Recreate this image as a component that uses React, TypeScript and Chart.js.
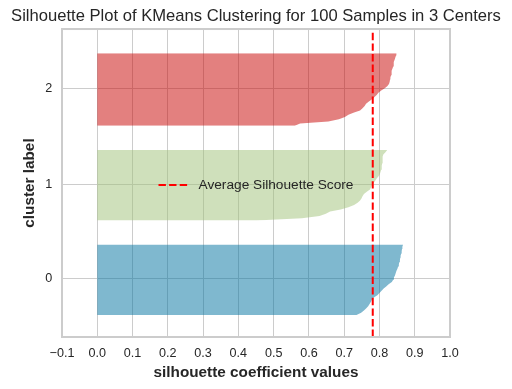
import { useEffect, useRef } from "react";
import { Chart, registerables } from "chart.js";

Chart.register(...registerables);

const TITLE = "Silhouette Plot of KMeans Clustering for 100 Samples in 3 Centers";
const X_LABEL = "silhouette coefficient values";
const Y_LABEL = "cluster label";
const LEGEND_LABEL = "Average Silhouette Score";

const CLUSTER_LABELS = ["0", "1", "2"];

// sorted silhouette values per sample
const CLUSTER_0_VALUES = [
  0.735, 0.748, 0.756, 0.762, 0.768, 0.772, 0.776, 0.779, 0.784, 0.794,
  0.8, 0.806, 0.812, 0.819, 0.826, 0.835, 0.839, 0.841, 0.844, 0.846,
  0.848, 0.851, 0.853, 0.855, 0.856, 0.858, 0.859, 0.86, 0.862, 0.863,
  0.864, 0.865, 0.867,
];
const CLUSTER_1_VALUES = [
  0.45, 0.58, 0.63, 0.648, 0.66, 0.69, 0.712, 0.728, 0.738, 0.745,
  0.749, 0.752, 0.756, 0.764, 0.773, 0.776, 0.779, 0.783, 0.788, 0.792,
  0.797, 0.801, 0.803, 0.805, 0.806, 0.807, 0.808, 0.808, 0.809, 0.81,
  0.811, 0.817, 0.822,
];
const CLUSTER_2_VALUES = [
  0.56, 0.575, 0.655, 0.685, 0.702, 0.712, 0.728, 0.745, 0.752, 0.758,
  0.762, 0.77, 0.778, 0.785, 0.792, 0.797, 0.805, 0.814, 0.822, 0.827,
  0.829, 0.83, 0.831, 0.833, 0.834, 0.835, 0.837, 0.839, 0.84, 0.841,
  0.843, 0.845, 0.847, 0.848,
];
const AVERAGE_SCORE = 0.781;

const X_TICKS = [-0.1, 0.0, 0.1, 0.2, 0.3, 0.4, 0.5, 0.6, 0.7, 0.8, 0.9, 1.0];
const X_TICK_LABELS = ["\u22120.1", "0.0", "0.1", "0.2", "0.3", "0.4", "0.5", "0.6", "0.7", "0.8", "0.9", "1.0"];
const X_MIN = -0.1;
const X_MAX = 1.0;
const CLUSTER_GAP = 10;

const FILL_COLORS = ["rgba(0,113,160,0.5)", "rgba(159,193,119,0.5)", "rgba(199,1,0,0.5)"];
const FONT = '"Liberation Sans", Arial, Helvetica, sans-serif';
const TEXT_COLOR = "#262626";
const GRID_COLOR = "#cccccc";

export default function App() {
  const ref = useRef<HTMLCanvasElement | null>(null);

  useEffect(() => {
    if (!ref.current) return;
    const clusters = [CLUSTER_0_VALUES, CLUSTER_1_VALUES, CLUSTER_2_VALUES];
    let yLower = CLUSTER_GAP;
    const tickPositions: number[] = [];
    const fillSets: any[] = clusters.map((vals, i) => {
      const data = vals.map((v, j) => ({ x: v, y: yLower + j }));
      tickPositions.push(yLower + 0.5 * vals.length);
      yLower += vals.length + CLUSTER_GAP;
      return {
        label: "cluster " + CLUSTER_LABELS[i],
        data,
        backgroundColor: FILL_COLORS[i],
        borderColor: FILL_COLORS[i],
        borderWidth: 0,
        pointRadius: 0,
        fill: "origin",
        tension: 0,
        order: 1,
      };
    });
    const yMax = yLower;

    const avgSet = {
      label: LEGEND_LABEL,
      data: [
        { x: AVERAGE_SCORE, y: 0 },
        { x: AVERAGE_SCORE, y: yMax },
      ],
      borderColor: "#ff0000",
      borderWidth: 2,
      borderDash: [7.4, 3.2],
      pointRadius: 0,
      fill: false,
      order: 0,
    };

    const decor = {
      id: "decor",
      afterDraw(chart: any) {
        const { ctx } = chart;
        const { left, right, top, bottom } = chart.chartArea;
        ctx.save();
        ctx.strokeStyle = GRID_COLOR;
        ctx.lineWidth = 2;
        ctx.strokeRect(left, top, right - left, bottom - top);
        ctx.font = "13.7px " + FONT;
        const textW = ctx.measureText(LEGEND_LABEL).width;
        const handle = 30;
        const gap = 10;
        const total = handle + gap + textW;
        const cx = (left + right) / 2;
        const cy = Math.round((top + bottom) / 2) + 2;
        const x0 = cx - total / 2;
        ctx.strokeStyle = "#ff0000";
        ctx.lineWidth = 2;
        ctx.setLineDash([7.4, 3.2]);
        ctx.beginPath();
        ctx.moveTo(x0, cy);
        ctx.lineTo(x0 + handle, cy);
        ctx.stroke();
        ctx.setLineDash([]);
        ctx.fillStyle = TEXT_COLOR;
        ctx.textAlign = "left";
        ctx.textBaseline = "middle";
        ctx.fillText(LEGEND_LABEL, x0 + handle + gap, cy);
        ctx.restore();
      },
    };

    const chart = new Chart(ref.current, {
      type: "line",
      data: { datasets: [avgSet, ...fillSets] as any },
      plugins: [decor],
      options: {
        indexAxis: "y",
        animation: false,
        responsive: true,
        maintainAspectRatio: false,
        layout: { padding: 0 },
        plugins: {
          legend: { display: false },
          tooltip: { enabled: false },
          title: {
            display: true,
            text: TITLE,
            color: TEXT_COLOR,
            font: { family: FONT, size: 16.6, weight: "normal" },
            padding: { top: 6.5, bottom: 2.6 },
          },
        },
        scales: {
          x: {
            type: "linear",
            min: X_MIN,
            max: X_MAX,
            afterBuildTicks: (scale: any) => {
              scale.ticks = X_TICKS.map((v) => ({ value: v }));
            },
            afterFit: (scale: any) => {
              scale.height = 52;
            },
            ticks: {
              autoSkip: false,
              maxRotation: 0,
              padding: 9,
              color: TEXT_COLOR,
              font: { family: FONT, size: 12.6 },
              callback: (_v: any, i: number) => X_TICK_LABELS[i],
            },
            grid: { color: GRID_COLOR, lineWidth: 1, drawTicks: false },
            border: { display: false },
            title: {
              display: true,
              text: X_LABEL,
              color: TEXT_COLOR,
              font: { family: FONT, size: 15.3, weight: "bold" },
              padding: { top: 0, bottom: 7 },
            },
          },
          y: {
            type: "linear",
            min: 0,
            max: yMax,
            afterBuildTicks: (scale: any) => {
              scale.ticks = tickPositions.map((v) => ({ value: v }));
            },
            afterFit: (scale: any) => {
              scale.width = 62;
            },
            ticks: {
              autoSkip: false,
              padding: 9.7,
              color: TEXT_COLOR,
              font: { family: FONT, size: 12.6 },
              callback: (_v: any, i: number) => CLUSTER_LABELS[i],
            },
            grid: { color: GRID_COLOR, lineWidth: 1, drawTicks: false },
            border: { display: false },
            title: {
              display: true,
              text: Y_LABEL,
              color: TEXT_COLOR,
              font: { family: FONT, size: 15.3, weight: "bold" },
              padding: { top: 20.6, bottom: 0 },
            },
          },
          rightSpace: {
            type: "linear",
            position: "right",
            display: true,
            afterFit: (scale: any) => {
              scale.width = 62;
            },
            ticks: { display: false },
            grid: { display: false, drawTicks: false },
            border: { display: false },
          },
        },
      } as any,
    });
    return () => chart.destroy();
  }, []);

  return (
    <div style={{ position: "fixed", left: 0, top: 0, width: 512, height: 389, background: "#fff" }}>
      <canvas ref={ref} />
    </div>
  );
}
